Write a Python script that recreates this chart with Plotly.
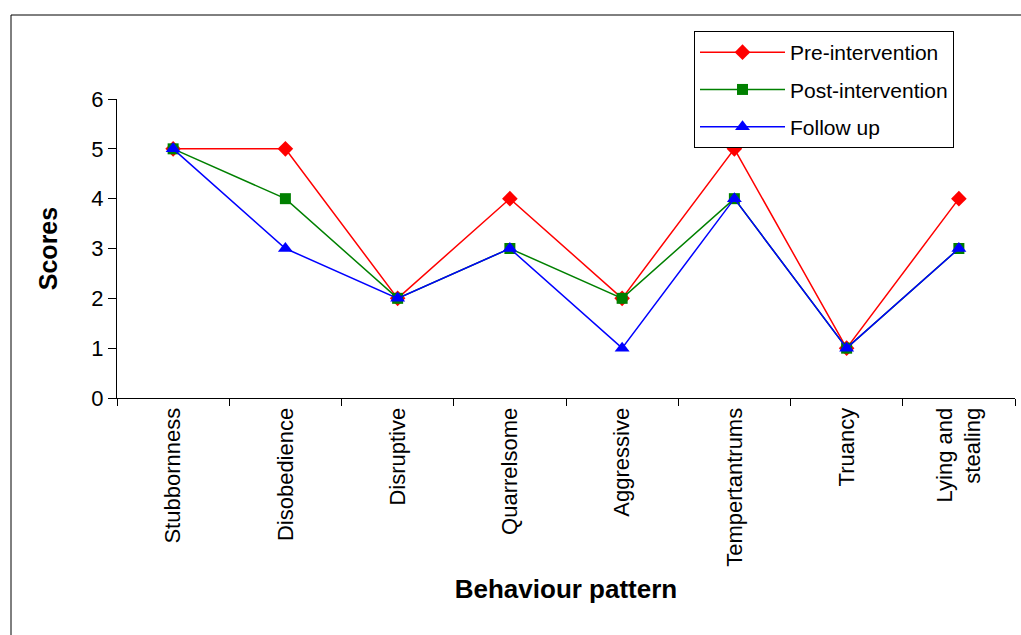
import plotly.graph_objects as go

categories = ["Stubbornness", "Disobedience", "Disruptive", "Quarrelsome",
              "Aggressive", "Tempertantrums", "Truancy", "Lying and<br>stealing"]
pre_intervention = [5, 5, 2, 4, 2, 5, 1, 4]
post_intervention = [5, 4, 2, 3, 2, 4, 1, 3]
follow_up = [5, 3, 2, 3, 1, 4, 1, 3]
y_ticks = [0, 1, 2, 3, 4, 5, 6]

FONT = "Liberation Sans, Arial, sans-serif"

fig = go.Figure()
fig.add_trace(go.Scatter(
    x=categories, y=pre_intervention, name="Pre-intervention", mode="lines+markers",
    legendgroup="a",
    line=dict(color="#ff0000", width=1.5),
    marker=dict(symbol="diamond", size=12, color="#ff0000")))
fig.add_trace(go.Scatter(
    x=categories, y=post_intervention, name="Post-intervention", mode="lines+markers",
    legendgroup="b",
    line=dict(color="#008000", width=1.5),
    marker=dict(symbol="square", size=11, color="#008000")))
fig.add_trace(go.Scatter(
    x=categories, y=follow_up, name="Follow up", mode="lines+markers",
    legendgroup="c",
    line=dict(color="#0000ff", width=1.5),
    marker=dict(symbol="triangle-up", size=13, color="#0000ff")))

# plot area in pixels: left 117, right 1015, top 99, bottom 398
L, R, T, B = 117, 1015, 99, 398
W, H = 1021, 635
pw, ph = R - L, B - T

def px_x(x):
    return (x - L) / pw

def px_y(y):
    return (B - y) / ph

fig.update_layout(
    width=W, height=H,
    margin=dict(l=L, r=W - R, t=T, b=H - B),
    paper_bgcolor="white", plot_bgcolor="white",
    font=dict(family=FONT, color="black"),
    showlegend=True,
    legend=dict(
        x=px_x(694), y=px_y(31), xanchor="left", yanchor="top",
        bordercolor="black", borderwidth=1, bgcolor="white",
        font=dict(size=21, family=FONT),
        itemwidth=85, tracegroupgap=7, entrywidth=285,
    ),
    xaxis=dict(
        type="category", range=[-0.5, len(categories) - 0.5],
        showgrid=False, showline=True, linecolor="black", linewidth=1,
        ticks="outside", ticklen=7, tickcolor="black", tickson="boundaries",
        tickangle=-90, tickfont=dict(size=22, family=FONT),
        title=dict(text="<b>Behaviour pattern</b>", font=dict(size=26, family=FONT), standoff=14),
        zeroline=False,
    ),
    yaxis=dict(
        range=[0, 6], tickvals=y_ticks,
        showgrid=False, showline=True, linecolor="black", linewidth=1,
        ticks="outside", ticklen=8, tickcolor="black",
        tickfont=dict(size=22, family=FONT),
        title=dict(text="<b>Scores</b>", font=dict(size=25, family=FONT), standoff=26),
        zeroline=False,
    ),
    shapes=[
        dict(type="rect", xref="paper", yref="paper",
             x0=px_x(11), x1=px_x(1030), y0=px_y(645), y1=px_y(15),
             line=dict(color="black", width=1), layer="below"),
    ],
)

fig.write_html("out.html")
